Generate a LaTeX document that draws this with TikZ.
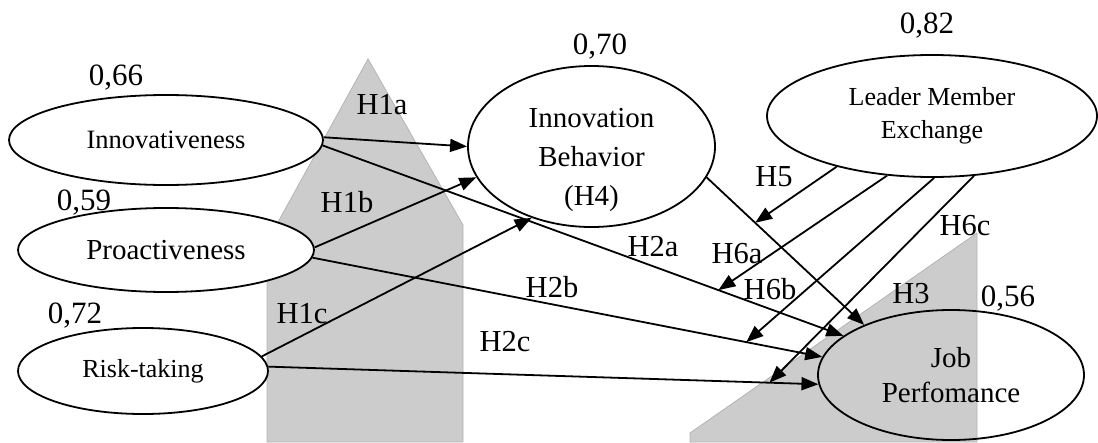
\documentclass[tikz,border=0pt]{standalone}
\usepackage{fontspec}
\setmainfont{Liberation Serif}
\usetikzlibrary{shapes.geometric,arrows.meta}
\definecolor{shade}{HTML}{CCCCCC}
\definecolor{shadeedge}{HTML}{B4B4B4}
\begin{document}
\begin{tikzpicture}[x=1pt,y=-1pt,
  construct/.style={draw, ellipse, line width=1.8pt, inner sep=0pt, align=center},
  path arrow/.style={line width=1.8pt, -{Triangle[length=17pt,width=13pt]}},
  value/.style={font=\fontsize{31}{31}\selectfont, anchor=base, inner sep=0pt},
  hyp/.style={font=\fontsize{30.5}{30.5}\selectfont, anchor=base, inner sep=0pt},
  backdrop/.style={fill=shade, draw=shadeedge, line width=0.8pt}
]
\useasboundingbox (0,0) rectangle (1098,442);

% grey backdrop shapes
\fill[backdrop] (267,442) -- (267,242) -- (368,59) -- (463,225) -- (463,442) -- cycle;
\fill[backdrop] (690,442) -- (690,433) -- (977,233) -- (977,442) -- cycle;

% constructs
\node[construct, fill=white, minimum width=314pt, minimum height=90pt,
      font=\fontsize{26.5}{30}\selectfont] (inn) at (166,140) {Innovativeness};
\node[construct, fill=white, minimum width=296pt, minimum height=84pt,
      font=\fontsize{29}{32}\selectfont] (pro) at (166,250) {Proactiveness};
\node[construct, fill=white, minimum width=250pt, minimum height=86pt,
      font=\fontsize{26}{30}\selectfont] (risk) at (143,371) {Risk-taking};
\node[construct, fill=white, minimum width=247pt, minimum height=161pt] (ib) at (591.5,146.5) {};
\node[align=center, inner sep=0pt, font=\fontsize{29}{39}\selectfont] (ibtext) at (591.5,160)
     {Innovation\\Behavior\\(H4)};
\node[construct, fill=white, minimum width=330pt, minimum height=122pt,
      font=\fontsize{26}{33}\selectfont] (lmx) at (932,116) {Leader Member\\Exchange};
\node[construct, minimum width=266pt, minimum height=130pt,
      font=\fontsize{29}{35}\selectfont] (jp) at (951,375) {Job\\Perfomance};

% coefficients
\node[value] (v66) at (116,85) {0,66};
\node[value] (v59) at (84,210) {0,59};
\node[value] (v72) at (75,323) {0,72};
\node[value] (v70) at (600,54) {0,70};
\node[value] (v82) at (927,33) {0,82};
\node[value] (v56) at (1008,306) {0,56};

% direct paths
\draw[path arrow] (inn.1) -- (ib.west);
\draw[path arrow] (pro.1) -- (ib.195);
\draw[path arrow] (risk.7) -- (ib.230);
\draw[path arrow] (inn.-2) -- coordinate[pos=0.76] (onH2a) (jp.160);
\draw[path arrow] (pro.-3.5) -- coordinate[pos=0.851] (onH2b) (jp.172);
\draw[path arrow] (risk.2) -- coordinate[pos=0.911] (onH2c) (jp.184);
\draw[path arrow] (ib.-15) -- coordinate[pos=0.308] (onH3) (jp.150);

% moderating paths
\draw[path arrow] (lmx.208) -- (onH3);
\draw[path arrow] (lmx.233) -- (onH2a);
\draw[path arrow] (lmx.272) -- (onH2b);
\draw[path arrow] (lmx.-55) -- (onH2c);

% hypothesis labels
\node[hyp] (h1a) at (382,114) {H1a};
\node[hyp] (h1b) at (347,212) {H1b};
\node[hyp] (h1c) at (302,323) {H1c};
\node[hyp] (h2a) at (653,256) {H2a};
\node[hyp] (h2b) at (552,297) {H2b};
\node[hyp] (h2c) at (505,351) {H2c};
\node[hyp] (h3) at (911,303) {H3};
\node[hyp] (h5) at (774,186) {H5};
\node[hyp] (h6a) at (737,263) {H6a};
\node[hyp] (h6b) at (770,299) {H6b};
\node[hyp] (h6c) at (965,235) {H6c};
\end{tikzpicture}
\end{document}
